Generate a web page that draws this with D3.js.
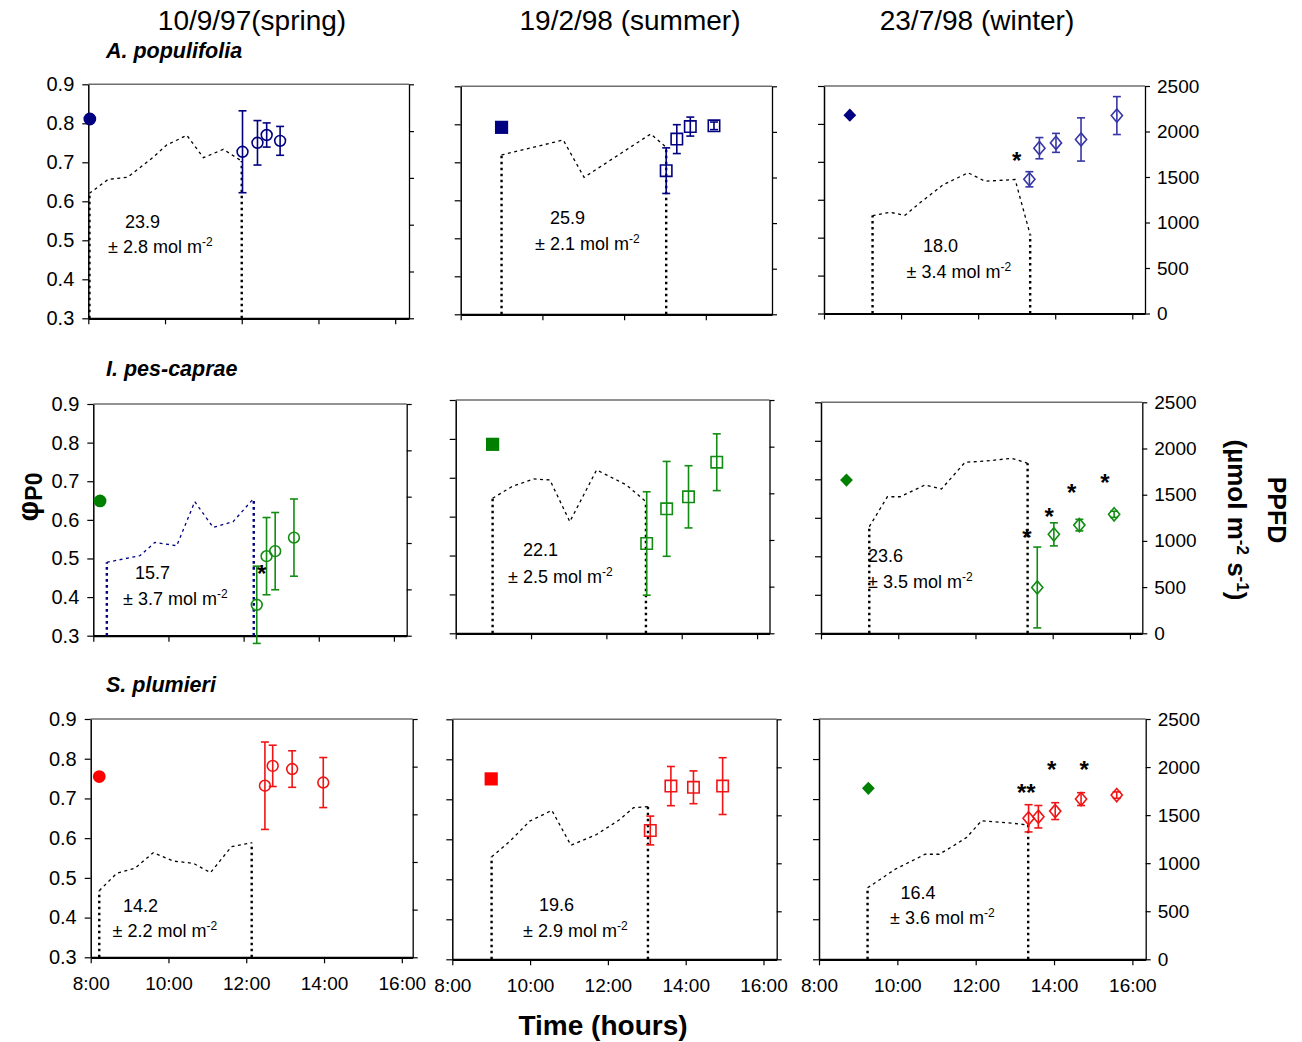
<!DOCTYPE html>
<html>
<head>
<meta charset="utf-8">
<script src="https://cdn.jsdelivr.net/npm/d3@7/dist/d3.min.js"></script>
<style>
  html, body { margin: 0; padding: 0; background: #fff; }
  svg { display: block; }
</style>
</head>
<body>
<svg id="chart" width="1302" height="1042"></svg>
<script>
// ---------- data ----------
const dates = ["10/9/97(spring)", "19/2/98 (summer)", "23/7/98 (winter)"];
const species = ["A. populifolia", "I. pes-caprae", "S. plumieri"];

const phiTicks = [0.3, 0.4, 0.5, 0.6, 0.7, 0.8, 0.9];
const hourTicks = [8, 10, 12, 14, 16];
const ppfdTicks = [0, 500, 1000, 1500, 2000, 2500];

// pre-dawn measurement (filled marker): time (h) and phi, [species][date]
const predawnTime = [[8.04, 9.0, 8.67], [8.18, 8.98, 8.66], [8.22, 9.0, 9.26]];
const predawnPhi = [[0.811, 0.792, 0.823], [0.649, 0.786, 0.698], [0.755, 0.751, 0.727]];

// afternoon measurements (open markers with error bars), [species][date][i]
const dayTime = [
  [[12.02, 12.41, 12.65, 13.0], [13.03, 13.29, 13.62, 14.2], [13.33, 13.59, 14.02, 14.67, 15.6]],
  [[12.35, 12.61, 12.84, 13.34], [13.07, 13.6, 14.18, 14.93], [13.6, 14.03, 14.69, 15.59]],
  [[12.48, 12.68, 13.18, 13.98], [13.09, 13.62, 14.2, 14.95], [13.35, 13.6, 14.03, 14.69, 15.6]]
];
const dayPhi = [
  [[0.727, 0.75, 0.77, 0.755], [0.678, 0.761, 0.794, 0.796], [0.654, 0.736, 0.75, 0.759, 0.822]],
  [[0.38, 0.506, 0.519, 0.554], [0.531, 0.62, 0.651, 0.74], [0.419, 0.557, 0.581, 0.609]],
  [[0.732, 0.782, 0.774, 0.74], [0.622, 0.733, 0.73, 0.733], [0.652, 0.656, 0.67, 0.70, 0.71]]
];
const dayErr = [
  [[0.105, 0.057, 0.031, 0.037], [0.06, 0.038, 0.025, 0.01], [0.02, 0.028, 0.025, 0.057, 0.05]],
  [[0.1, 0.1, 0.1, 0.1], [0.133, 0.122, 0.08, 0.073], [0.105, 0.03, 0.015, 0.008]],
  [[0.11, 0.052, 0.046, 0.063], [0.036, 0.049, 0.041, 0.071], [0.034, 0.028, 0.021, 0.016, 0.008]]
];

// PPFD course during the morning (µmol m-2 s-1), [species][date]
const ppfdTime = [
  [[8.03, 8.52, 9.02, 9.69, 10.04, 10.57, 11.0, 11.52, 12.0],
   [9.0, 10.51, 11.02, 12.65, 13.03],
   [9.26, 9.71, 10.10, 10.49, 11.10, 11.74, 12.18, 12.96, 13.35]],
  [[8.36, 9.24, 9.64, 10.22, 10.70, 11.19, 11.72, 12.27],
   [8.98, 9.49, 10.06, 10.50, 11.03, 11.74, 12.53, 13.05],
   [9.25, 9.72, 10.05, 10.69, 11.12, 11.73, 12.29, 12.94, 13.35]],
  [[8.22, 8.67, 9.14, 9.61, 10.12, 10.64, 11.08, 11.62, 12.14],
   [9.01, 9.48, 9.99, 10.56, 11.05, 11.71, 12.31, 12.66, 13.03],
   [9.24, 9.56, 9.94, 10.32, 10.71, 11.07, 11.43, 11.77, 12.15, 12.45, 12.96, 13.34]]
];
const ppfdValue = [
  [[1335, 1485, 1506, 1720, 1851, 1955, 1716, 1805, 1680],
   [1747, 1911, 1502, 1977, 1830],
   [1076, 1112, 1079, 1216, 1417, 1546, 1454, 1472, 867]],
  [[792, 863, 1007, 971, 1446, 1169, 1230, 1482],
   [1447, 1571, 1654, 1643, 1196, 1750, 1590, 1410],
   [1154, 1478, 1478, 1605, 1562, 1851, 1865, 1894, 1840]],
  [[699, 881, 934, 1098, 1010, 986, 888, 1161, 1203],
   [1067, 1230, 1439, 1551, 1188, 1300, 1457, 1579, 1590],
   [744, 831, 936, 1013, 1093, 1093, 1180, 1268, 1442, 1432, 1415, 1397]]
];

// integrated morning PPFD (mol m-2) and its SD
const dailyTotal = [[23.9, 25.9, 18.0], [15.7, 22.1, 23.6], [14.2, 19.6, 16.4]];
const dailySD = [[2.8, 2.1, 3.4], [3.7, 2.5, 3.5], [2.2, 2.9, 3.6]];

// ---------- layout & style ----------
const FONT = "'Liberation Sans', Arial, Helvetica, sans-serif";

// plot frames [left, right, top, bottom] per species row / date column
const frames = [
  [[88.3, 409, 84.3, 318.3], [460.7, 772, 86.3, 314.3], [824, 1145, 86, 313.5]],
  [[93.3, 406.7, 404, 635.7], [455.7, 769.5, 400, 633.3], [821, 1142.3, 402.3, 633.3]],
  [[90.7, 412.7, 719, 957.3], [452.3, 776.7, 719.3, 959.3], [819, 1145.7, 719, 959.3]]
];
// last hour shown on each time axis
const xEnd = [[16.36, 15.62, 16.33], [16.34, 16.33, 16.32], [16.28, 16.34, 16.34]];

// annotation text anchors [line1 x, line1 y, line2 x, line2 y]
const notePos = [
  [[125, 228, 108, 253], [550, 224, 535, 250], [923, 251.5, 906.5, 278]],
  [[135, 579, 123, 605], [523, 555.5, 508, 582.5], [868, 562, 868, 587.5]],
  [[123, 912, 112.5, 937], [539, 910.5, 523, 937], [900.5, 899, 890, 924]]
];

// significance asterisks: [time, phi, label]
const sigMarks = [
  [[], [], [[13.0, 0.718, "*"]]],
  [[[12.48, 0.475, "*"]], [], [[13.33, 0.564, "*"], [13.91, 0.618, "*"], [14.49, 0.679, "*"], [15.35, 0.707, "*"]]],
  [[], [], [[13.29, 0.729, "**"], [13.94, 0.788, "*"], [14.77, 0.788, "*"]]]
];

const fillColors = [["#000080", "#000080", "#000080"], ["#008000", "#008000", "#008000"], ["#ff0000", "#ff0000", "#008000"]];
const openColors = [["#000080", "#000080", "#3636a6"], ["#128c12", "#128c12", "#128c12"], ["#f01414", "#f01414", "#f01414"]];
const ppfdColors = [["#000", "#000", "#000"], ["#000080", "#000", "#000"], ["#000", "#000", "#000"]];
const shapes = ["circle", "square", "diamond"];

const svg = d3.select("#chart");

function markerPath(shape, cx, cy, filled) {
  if (shape === "circle") {
    const r = filled ? 6.4 : 5.4;
    return `M${cx - r},${cy}a${r},${r} 0 1,0 ${2 * r},0a${r},${r} 0 1,0 ${-2 * r},0Z`;
  }
  if (shape === "square") {
    const h = filled ? 6.6 : 5.7;
    return `M${cx - h},${cy - h}H${cx + h}V${cy + h}H${cx - h}Z`;
  }
  const w = filled ? 6.4 : 5.6, hh = filled ? 6.6 : 6.6;
  return `M${cx},${cy - hh}L${cx + w},${cy}L${cx},${cy + hh}L${cx - w},${cy}Z`;
}

function styleAxis(sel, domainWidth) {
  sel.select(".domain").attr("stroke", "#000").attr("stroke-width", domainWidth);
  sel.selectAll(".tick line").attr("stroke", "#000").attr("stroke-width", 1.2);
  sel.selectAll(".tick text").attr("fill", "#000").attr("font-size", 19).attr("font-family", FONT);
}

for (let r = 0; r < 3; r++) {
  for (let c = 0; c < 3; c++) {
    const [L, R, T, B] = frames[r][c];
    const x = d3.scaleLinear().domain([8, xEnd[r][c]]).range([L, R]);
    const y = d3.scaleLinear().domain([0.3, 0.9]).range([B, T]);
    const yP = d3.scaleLinear().domain([0, 2500]).range([B, T]);
    const g = svg.append("g");

    // frame top edge
    g.append("line").attr("x1", L).attr("x2", R).attr("y1", T).attr("y2", T)
      .attr("stroke", "#6e6e6e").attr("stroke-width", 1.6);

    // right axis (PPFD)
    const ra = g.append("g").attr("transform", `translate(${R},0)`)
      .call(d3.axisRight(yP).tickValues(ppfdTicks).tickSize(5).tickSizeOuter(0).tickPadding(7)
        .tickFormat(c === 2 ? d3.format("d") : ""));
    styleAxis(ra, 1.3);

    // left axis (phi)
    const la = g.append("g").attr("transform", `translate(${L},0)`)
      .call(d3.axisLeft(y).tickValues(phiTicks).tickSize(6).tickSizeOuter(0).tickPadding(8)
        .tickFormat(c === 0 ? d3.format(".1f") : ""));
    styleAxis(la, 1.5);
    la.selectAll(".tick text").attr("font-size", 20);

    // bottom axis (time)
    const ba = g.append("g").attr("transform", `translate(0,${B})`)
      .call(d3.axisBottom(x).tickValues(hourTicks.filter(h => h <= xEnd[r][c])).tickSize(6).tickSizeOuter(0)
        .tickPadding(13).tickFormat(r === 2 ? (h => `${h}:00`) : ""));
    styleAxis(ba, 2.2);

    // PPFD course
    const pt = ppfdTime[r][c], pv = ppfdValue[r][c];
    const pts = pt.map((t, i) => [t, pv[i]]);
    const pcol = ppfdColors[r][c];
    g.append("path")
      .attr("d", d3.line().x(d => x(d[0])).y(d => yP(d[1]))(pts))
      .attr("fill", "none").attr("stroke", pcol).attr("stroke-width", 1.3)
      .attr("stroke-dasharray", "3,3.5");
    // integration limits
    [pts[0], pts[pts.length - 1]].forEach(d => {
      g.append("line").attr("x1", x(d[0])).attr("x2", x(d[0]))
        .attr("y1", yP(0)).attr("y2", yP(d[1]))
        .attr("stroke", pcol).attr("stroke-width", 2.4).attr("stroke-dasharray", "2.6,3.4");
    });

    // daily integral annotation
    const np = notePos[r][c];
    g.append("text").attr("x", np[0]).attr("y", np[1])
      .attr("font-family", FONT).attr("font-size", 18).attr("fill", "#000")
      .text(dailyTotal[r][c].toFixed(1));
    const t2 = g.append("text").attr("x", np[2]).attr("y", np[3])
      .attr("font-family", FONT).attr("font-size", 18).attr("fill", "#000");
    t2.append("tspan").text(`± ${dailySD[r][c].toFixed(1)} mol m`);
    t2.append("tspan").attr("dy", -7).attr("font-size", 12).text("-2");

    // afternoon points with error bars
    const oc = openColors[r][c];
    const shape = shapes[c];
    dayTime[r][c].forEach((t, i) => {
      const cx = x(t), m = dayPhi[r][c][i], e = dayErr[r][c][i];
      const yTop = y(m + e), yBot = y(m - e);
      g.append("line").attr("x1", cx).attr("x2", cx).attr("y1", yTop).attr("y2", yBot)
        .attr("stroke", oc).attr("stroke-width", 1.6);
      [yTop, yBot].forEach(yy => {
        g.append("line").attr("x1", cx - 4).attr("x2", cx + 4).attr("y1", yy).attr("y2", yy)
          .attr("stroke", oc).attr("stroke-width", 1.6);
      });
      g.append("path").attr("d", markerPath(shape, cx, y(m), false))
        .attr("fill", "none").attr("stroke", oc).attr("stroke-width", 1.6);
    });

    // pre-dawn point
    g.append("path")
      .attr("d", markerPath(shape, x(predawnTime[r][c]), y(predawnPhi[r][c]), true))
      .attr("fill", fillColors[r][c]).attr("stroke", "none");

    // significance marks
    sigMarks[r][c].forEach(([t, p, lab]) => {
      g.append("text").attr("x", x(t)).attr("y", y(p) + 0.58 * 24)
        .attr("text-anchor", "middle").attr("font-family", FONT).attr("font-weight", "bold")
        .attr("font-size", 24).attr("fill", "#000").text(lab);
    });
  }
}

// column titles (sampling dates)
const titleX = [252, 630, 977];
dates.forEach((d, i) => {
  svg.append("text").attr("x", titleX[i]).attr("y", 30).attr("text-anchor", "middle")
    .attr("font-family", FONT).attr("font-size", 28).attr("fill", "#000").text(d);
});

// species labels
const speciesY = [58, 376, 692];
species.forEach((s, i) => {
  svg.append("text").attr("x", 106).attr("y", speciesY[i])
    .attr("font-family", FONT).attr("font-size", 21.5).attr("font-weight", "bold")
    .attr("font-style", "italic").attr("fill", "#000").text(s);
});

// x-axis title
svg.append("text").attr("x", 603).attr("y", 1035).attr("text-anchor", "middle")
  .attr("font-family", FONT).attr("font-size", 28).attr("font-weight", "bold")
  .attr("fill", "#000").text("Time (hours)");

// left axis title
const phiLabel = svg.append("text").attr("transform", "translate(38,497) rotate(-90)")
  .attr("text-anchor", "middle").attr("font-family", FONT).attr("font-weight", "bold").attr("fill", "#000");
phiLabel.append("tspan").attr("font-size", 29).text("φ");
phiLabel.append("tspan").attr("font-size", 23).attr("dy", 4).text("P0");

// right axis title
svg.append("text").attr("transform", "translate(1268,510) rotate(90)")
  .attr("text-anchor", "middle").attr("font-family", FONT).attr("font-weight", "bold")
  .attr("font-size", 25).attr("fill", "#000").text("PPFD");
const ppfdLabel2 = svg.append("text").attr("transform", "translate(1228,520) rotate(90)")
  .attr("text-anchor", "middle").attr("font-family", FONT).attr("font-weight", "bold")
  .attr("font-size", 26).attr("fill", "#000");
ppfdLabel2.append("tspan").text("(µmol m");
ppfdLabel2.append("tspan").attr("font-size", 17).attr("dy", -9).text("-2");
ppfdLabel2.append("tspan").attr("dy", 9).text(" s");
ppfdLabel2.append("tspan").attr("font-size", 17).attr("dy", -9).text("-1");
ppfdLabel2.append("tspan").attr("dy", 9).text(")");
</script>
</body>
</html>
